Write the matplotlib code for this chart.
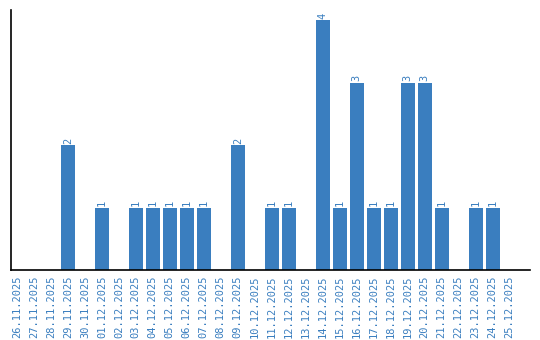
import matplotlib
matplotlib.use("Agg")
import matplotlib.pyplot as plt

dates = ["26.11.2025", "27.11.2025", "28.11.2025", "29.11.2025", "30.11.2025",
         "01.12.2025", "02.12.2025", "03.12.2025", "04.12.2025", "05.12.2025",
         "06.12.2025", "07.12.2025", "08.12.2025", "09.12.2025", "10.12.2025",
         "11.12.2025", "12.12.2025", "13.12.2025", "14.12.2025", "15.12.2025",
         "16.12.2025", "17.12.2025", "18.12.2025", "19.12.2025", "20.12.2025",
         "21.12.2025", "22.12.2025", "23.12.2025", "24.12.2025", "25.12.2025"]
counts = [0, 0, 0, 2, 0, 1, 0, 1, 1, 1, 1, 1, 0, 2, 0,
          1, 1, 0, 4, 1, 3, 1, 1, 3, 3, 1, 0, 1, 1, 0]

blue = "#3a7ebf"
fig = plt.figure(figsize=(5.4, 3.4), dpi=100)
ax = fig.add_axes([11 / 540, 70 / 340, 519 / 540, 260 / 340])

x = range(len(dates))
ax.bar(x, counts, width=0.82, color=blue)
for i, v in zip(x, counts):
    if v > 0:
        ax.text(i, v + 0.02, str(v), rotation=90, ha="center", va="bottom",
                color=blue, family="DejaVu Sans Mono", fontsize=7.5)

ax.set_xlim(-0.35, 30.2)
ax.set_ylim(0, 4.16)
ax.set_xticks(list(x))
ax.set_xticklabels(dates, rotation=90, color=blue, family="DejaVu Sans Mono", fontsize=7.5)
ax.set_yticks([])
ax.tick_params(axis="x", length=0, pad=4)
ax.spines["top"].set_visible(False)
ax.spines["right"].set_visible(False)
ax.spines["left"].set_linewidth(1.2)
ax.spines["bottom"].set_linewidth(1.2)

fig.savefig("out.png", dpi=100)
